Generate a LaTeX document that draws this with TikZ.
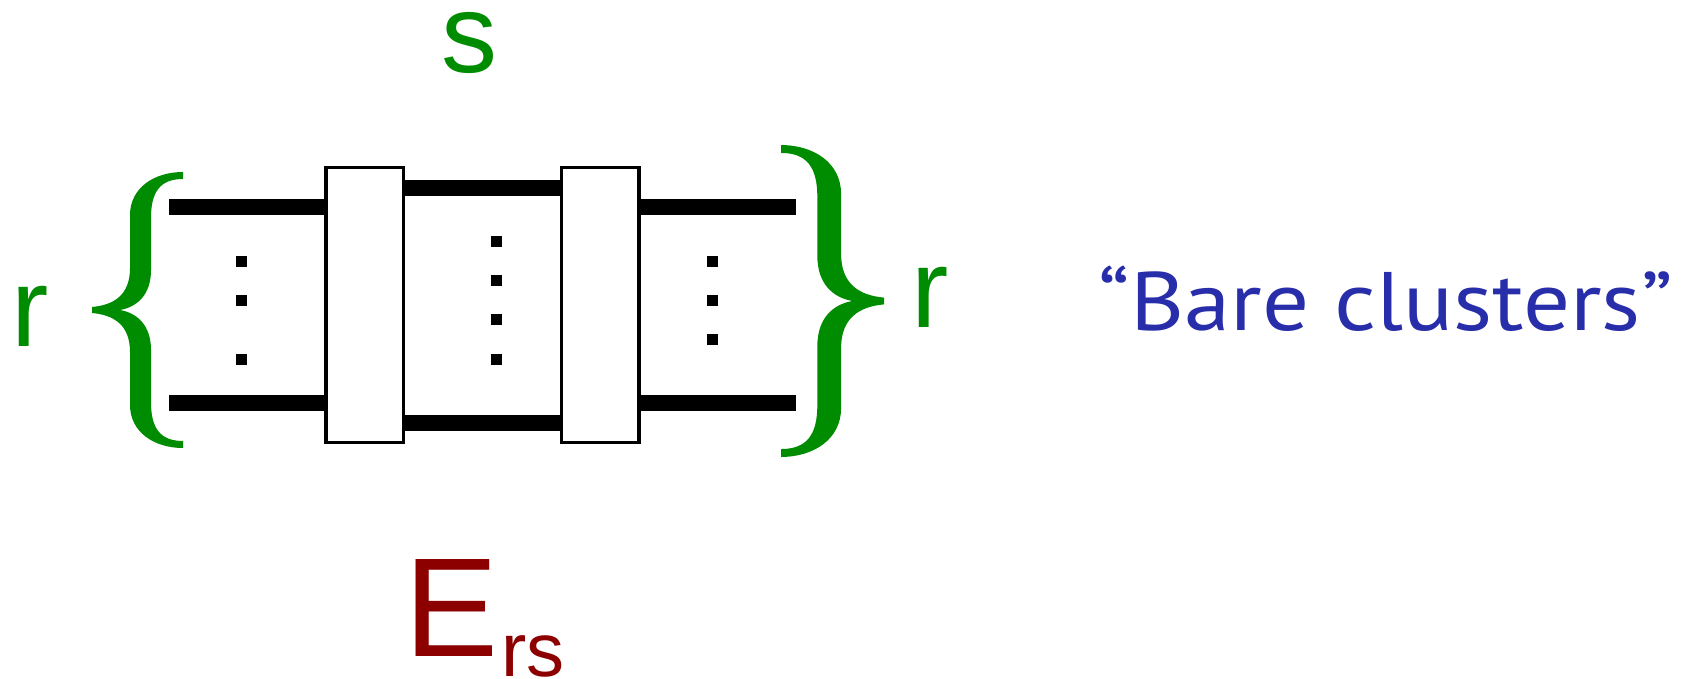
\documentclass[tikz,border=0pt]{standalone}
\usepackage{fontspec}
\setsansfont{Liberation Sans}
\newfontfamily\notefont{PT Sans}
\usepackage{xcolor}
\usetikzlibrary{positioning}
\definecolor{idxgreen}{RGB}{0,140,0}
\definecolor{energyred}{RGB}{140,0,0}
\definecolor{noteblue}{RGB}{40,45,170}

\tikzset{
    curly/.pic={
        \fill[idxgreen] (91,-138) .. controls (62,-138) and (38,-122) .. (38,-95)
            -- (38,-42) .. controls (38,-15) and (22,-5) .. (0,-3)
            -- (0,3) .. controls (22,5) and (38,15) .. (38,42)
            -- (38,95) .. controls (38,122) and (62,138) .. (91,138)
            -- (91,131) .. controls (68,131) and (59,118) .. (59,92)
            -- (59,40) .. controls (59,15) and (45,3) .. (28,0)
            .. controls (45,-3) and (59,-15) .. (59,-40)
            -- (59,-92) .. controls (59,-118) and (68,-131) .. (91,-131)
            -- cycle;
    }
}

\begin{document}
\begin{tikzpicture}[
        x=1pt, y=-1pt,
        wire/.style={line width=16pt},
        cluster/.style={draw, line width=3.5pt, fill=white, minimum width=77.5pt, minimum height=274.5pt, inner sep=0pt},
        dotsq/.style={fill, minimum size=11pt, inner sep=0pt},
        idx/.style={text=idxgreen, inner sep=0pt, font=\sffamily\fontsize{112}{112}\selectfont},
    ]
    \useasboundingbox (0,0) rectangle (1699,679);

    % cluster blocks
    \node[cluster] (blk1) at (364.5,305) {};
    \node[cluster] (blk2) at (600,305)   {};

    % outer legs
    \coordinate (lt) at (169,207);
    \coordinate (lb) at (169,403);
    \coordinate (rt) at (796,207);
    \coordinate (rb) at (796,403);
    \draw[wire] (lt) -- (lt -| blk1.west);
    \draw[wire] (lb) -- (lb -| blk1.west);
    \draw[wire] (rt -| blk2.east) -- (rt);
    \draw[wire] (rb -| blk2.east) -- (rb);
    % inner legs
    \draw[wire] ([yshift=117pt]blk1.east)  -- ([yshift=117pt]blk2.west);
    \draw[wire] ([yshift=-118pt]blk1.east) -- ([yshift=-118pt]blk2.west);

    % vertical dots
    \foreach \y in {261,300,359} \node[dotsq] (ldot\y) at (241,\y) {};
    \foreach \y in {241,280,319,359} \node[dotsq] (mdot\y) at (496,\y) {};
    \foreach \y in {261,300,339} \node[dotsq] (rdot\y) at (712,\y) {};

    % braces and indices
    \pic (lbrace) at (92,310) {curly};
    \pic[xscale=-1.13, yscale=1.13] (rbrace) at (884,301) {curly};
    \node[idx] (rleft)  at (30.5,316) {r};
    \node[idx] (rright) at (930,297)  {r};
    \node[idx] (stop)   at (469,42.5) {s};

    \node[anchor=base west, inner sep=0pt, text=energyred, font=\sffamily\fontsize{141}{141}\selectfont] (ers) at (404,656) {E\kern3pt\raisebox{-20pt}{\fontsize{76}{76}\selectfont rs}};
    \node[anchor=base, inner sep=0pt, xscale=1.12, text=noteblue, font=\notefont\fontsize{83}{83}\selectfont] (note) at (1385.5,330) {“Bare clusters”};
\end{tikzpicture}
\end{document}
